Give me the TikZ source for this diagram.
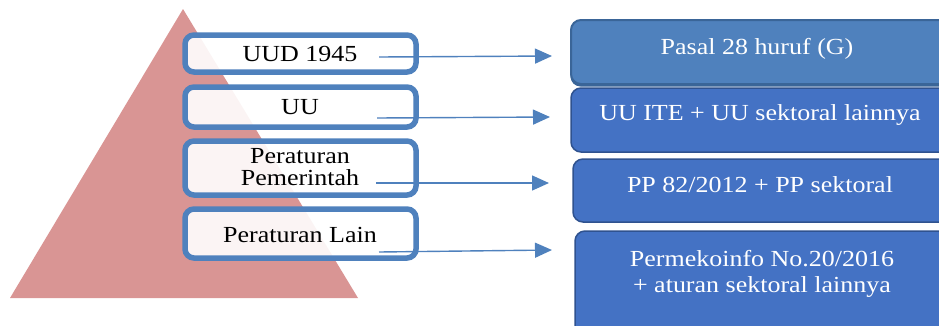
\documentclass[tikz,border=0pt]{standalone}
\usepackage{fontspec}
\setmainfont{Liberation Serif}
\usetikzlibrary{arrows.meta,shadows}
\definecolor{tri}{HTML}{D99594}
\definecolor{lborder}{HTML}{4F81BD}
\definecolor{rfillA}{HTML}{4F81BD}
\definecolor{rfillB}{HTML}{4472C4}
\definecolor{rdrawA}{HTML}{3A6598}
\definecolor{rdrawB}{HTML}{2F528F}
\definecolor{arr}{HTML}{4F81BD}
\newcommand\xs[1]{\scalebox{1.13}[1]{#1}}
\begin{document}
\begin{tikzpicture}[x=1pt,y=-1pt,
  lbox/.style={draw=lborder, line width=5.5pt, rounded corners=9pt, fill=white, fill opacity=0.9, minimum width=231pt, inner sep=0pt},
  rbox/.style={draw=rdrawB, line width=1.5pt, rounded corners=10pt, fill=rfillB, inner sep=0pt},
  ltext/.style={anchor=base, font=\fontsize{23}{22}\selectfont, text=black, inner sep=0pt},
  rtext/.style={anchor=base, font=\fontsize{23}{26}\selectfont, text=white, inner sep=0pt},
  conn/.style={draw=arr, line width=1.4pt, -{Triangle[length=17pt,width=15pt]}}]
\useasboundingbox (0,0) rectangle (939,325);
% pyramid
\fill[tri] (183,9) -- (358,298) -- (10,298) -- cycle;
% left boxes
\node[lbox, minimum height=37pt] (l1) at (300.5,53.5) {};
\node[lbox, minimum height=40pt] (l2) at (300.5,107) {};
\node[lbox, minimum height=54pt] (l3) at (300.5,168) {};
\node[lbox, minimum height=49pt] (l4) at (300.5,233.5) {};
\node[ltext] (t1) at (300,61) {\xs{UUD 1945}};
\node[ltext] (t2) at (300,114) {\xs{UU}};
\node[ltext] (t3) at (300,163) {\xs{\begin{tabular}[t]{@{}c@{}}Peraturan\\Pemerintah\end{tabular}}};
\node[ltext] (t4) at (300,242) {\xs{Peraturan Lain}};
% right boxes
\begin{scope}
\clip (0,0) rectangle (939,325);
\node[rbox, fill=rfillA, draw=rdrawA, line width=2pt, minimum width=389pt, minimum height=64pt,
  drop shadow={shadow xshift=-0.5pt, shadow yshift=-2.5pt, fill=rdrawA, opacity=1}] (r1) at (765.5,52) {};
\node[rbox, minimum width=389pt, minimum height=64pt] (r2) at (765.5,120) {};
\node[rbox, minimum width=387pt, minimum height=63pt] (r3) at (766.5,190.5) {};
\node[rbox, minimum width=385pt, minimum height=114pt] (r4) at (767.5,288) {};
\end{scope}
\node[rtext] (u1) at (757,54) {\xs{Pasal 28 huruf (G)}};
\node[rtext] (u2) at (760,120) {\xs{UU ITE + UU sektoral lainnya}};
\node[rtext] (u3) at (760,192) {\xs{PP 82/2012 + PP sektoral}};
\node[rtext] (u4) at (762,266) {\xs{\begin{tabular}[t]{@{}c@{}}Permekoinfo No.20/2016\\+ aturan sektoral lainnya\end{tabular}}};
% connectors
\coordinate (s1) at (379,57);  \coordinate (e1) at (552,56);
\coordinate (s2) at (377,118); \coordinate (e2) at (550,117);
\coordinate (s3) at (376,183); \coordinate (e3) at (549,183);
\coordinate (s4) at (379,252); \coordinate (e4) at (552,250);
\draw[conn] (s1) -- (e1);
\draw[conn] (s2) -- (e2);
\draw[conn] (s3) -- (e3);
\draw[conn] (s4) -- (e4);
\end{tikzpicture}
\end{document}
